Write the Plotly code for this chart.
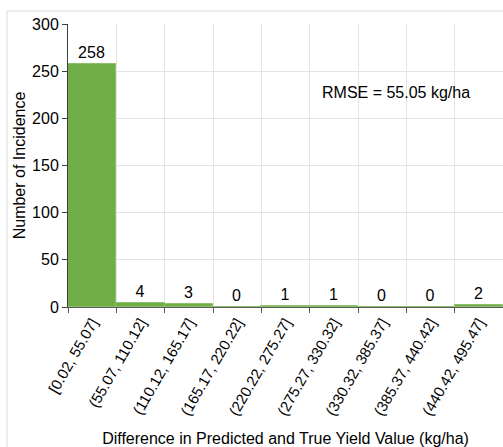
import plotly.graph_objects as go

categories = ["[0.02, 55.07]", "(55.07, 110.12]", "(110.12, 165.17]", "(165.17, 220.22]",
              "(220.22, 275.27]", "(275.27, 330.32]", "(330.32, 385.37]", "(385.37, 440.42]",
              "(440.42, 495.47]"]
counts = [258, 4, 3, 0, 1, 1, 0, 0, 2]
y_ticks = [0, 50, 100, 150, 200, 250, 300]

positions = list(range(len(categories)))
boundaries = [p - 0.5 for p in positions] + [positions[-1] + 0.5]

FONT = "Liberation Sans, Arial, sans-serif"
W, H = 503, 447
ML, MR, MT, MB = 68, 0, 24, 140
pw, ph = W - ML - MR, H - MT - MB

fig = go.Figure(go.Bar(
    x=positions, y=counts, width=1.0,
    marker=dict(color="#70AD47", line=dict(color="#8CC06A", width=1)),
    text=[str(c) for c in counts], textposition="outside",
    textfont=dict(size=16, color="#000000", family=FONT),
    cliponaxis=False,
))

gx0 = (7 - ML) / pw
gy1 = (H - MB - 11) / ph
fig.add_shape(type="line", xref="paper", yref="paper", x0=gx0, x1=1.2, y0=gy1, y1=gy1,
              line=dict(color="#d9d9d9", width=1))
fig.add_shape(type="line", xref="paper", yref="paper", x0=gx0, x1=gx0, y0=gy1, y1=-1.0,
              line=dict(color="#d9d9d9", width=1))

fig.add_annotation(text="RMSE = 55.05 kg/ha", xref="paper", yref="paper",
                   x=(320 - ML) / pw, y=(H - MB - 92) / ph, xanchor="left", yanchor="middle",
                   showarrow=False, font=dict(size=16, color="#000000", family=FONT))

fig.update_layout(
    width=W, height=H, margin=dict(l=ML, r=MR, t=MT, b=MB),
    paper_bgcolor="white", plot_bgcolor="white",
    showlegend=False, bargap=0,
    font=dict(family=FONT, color="#000000"),
    xaxis=dict(
        range=[-0.5, len(categories) - 0.5],
        tickmode="array", tickvals=positions, ticktext=categories,
        tickangle=-60, tickfont=dict(size=15, color="#000000"),
        ticks="", showgrid=False,
        showline=True, linecolor="#595959", linewidth=1,
        minor=dict(tickmode="array", tickvals=boundaries, ticks="outside", ticklen=5,
                   tickcolor="#595959", showgrid=True, gridcolor="#e3e3e3", gridwidth=1),
        title=dict(text="Difference in Predicted and True Yield Value (kg/ha)",
                   font=dict(size=16, color="#000000"), standoff=15),
        zeroline=False,
    ),
    yaxis=dict(
        range=[0, 300], tickmode="array", tickvals=y_ticks,
        tickfont=dict(size=16, color="#000000"),
        ticks="outside", ticklen=5, tickcolor="#404040",
        showline=True, linecolor="#404040", linewidth=1,
        showgrid=True, gridcolor="#e3e3e3", gridwidth=1, zeroline=False,
        title=dict(text="Number of Incidence", font=dict(size=16, color="#000000"), standoff=2),
    ),
)

fig.write_html("out.html")
